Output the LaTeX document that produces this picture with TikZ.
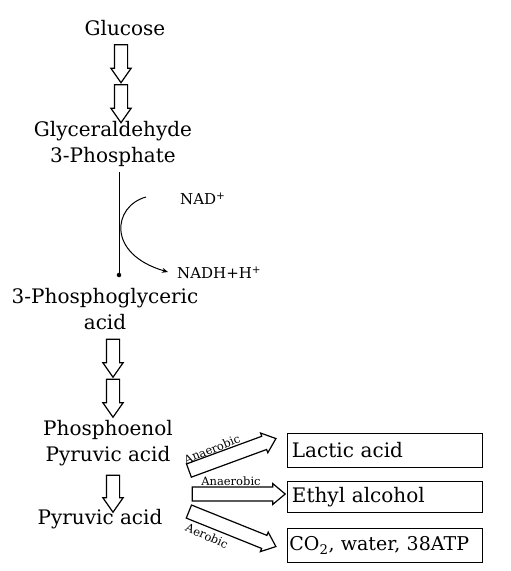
\documentclass[tikz,border=0pt]{standalone}
\usepackage{fontspec}
\setmainfont{DejaVu Serif}
\usetikzlibrary{calc,shapes.arrows,arrows.meta}
\tikzset{
  stage/.style={align=center, font=\fontsize{20}{26}\selectfont, inner sep=0pt},
  hollow/.style={single arrow, draw, line width=1.2pt, inner sep=6pt, minimum width=20pt,
    single arrow head extend=3.5pt, single arrow tip angle=70, minimum height=38pt, rotate=-90},
  sidearrow/.style={single arrow, draw, line width=1.2pt, inner sep=5.5pt, minimum width=21pt,
    single arrow head extend=3pt, single arrow tip angle=80},
  product/.style={draw, line width=0.9pt, anchor=west, minimum height=34pt, text width=186pt,
    inner xsep=4.5pt, align=left, font=\fontsize{20}{24}\selectfont},
  cofactor/.style={anchor=west, inner sep=0pt, font=\fontsize{15}{15}\selectfont},
  tag/.style={inner sep=0pt, font=\fontsize{11.5}{12}\selectfont},
  dot/.style={circle, fill=black, inner sep=1.6pt},
}
\begin{document}
\begin{tikzpicture}[x=1pt,y=-1pt]
  \useasboundingbox (0,0) rectangle (511,571);

  % stages of glycolysis
  \node[stage] (glucose) at (125,28) {Glucose};
  \node[stage] (gap) at (113,144) {Glyceraldehyde\\3-Phosphate};
  \node[stage] (pga) at (105,309) {3-Phosphoglyceric\\acid};
  \node[stage] (pep) at (108,443) {Phosphoenol\\Pyruvic acid};
  \node[stage] (pyruvate) at (100,519) {Pyruvic acid};

  % hollow arrows between stages
  \node[hollow] (ar1) at (121,59) {};
  \node[hollow] (ar2) at (121,99) {};
  \node[hollow] (ar3) at (113,353.5) {};
  \node[hollow] (ar4) at (113,393.5) {};
  \node[hollow, minimum height=37pt] (ar5) at (113,489) {};

  % oxidation step with NAD+
  \coordinate (gapEnd) at (119,172);
  \node[dot] (pgaDot) at (119,275) {};
  \draw[line width=1pt] (gapEnd) -- (pgaDot);
  \coordinate (nadIn) at (146,197);
  \coordinate (nadOut) at (168,272);
  \draw[line width=1pt, -{Stealth[length=6pt,width=5pt]}]
    (nadIn) .. controls (113,206) and (106,254) .. (nadOut);
  \node[cofactor] (nad) at (180,199) {NAD\textsuperscript{+}};
  \node[cofactor] (nadh) at (177,273) {NADH+H\textsuperscript{+}};

  % end products
  \node[product] (lactic) at (287,450) {Lactic acid};
  \node[product, minimum height=31pt] (ethyl) at (287,497) {Ethyl alcohol};
  \node[product, inner xsep=2pt, text width=191pt, font=\fontsize{19}{22}\selectfont] (co2) at (287,545)
    {CO\textsubscript{2}, water, 38ATP};

  \coordinate (lacTail) at (185,472);
  \coordinate (lacTip) at (272,440);
  \coordinate (ethTail) at (188,494);
  \coordinate (ethTip) at (281,494);
  \coordinate (co2Tail) at (185,510);
  \coordinate (co2Tip) at (272,545);
  \foreach \src/\dst/\nm in {lacTail/lacTip/toLactic, ethTail/ethTip/toEthyl, co2Tail/co2Tip/toCO}{
    \path let \p1=($(\dst)-(\src)$), \n1={atan2(\y1,\x1)}, \n2={veclen(\x1,\y1)} in
      node[sidearrow, minimum height=\n2, rotate=\n1] (\nm) at ($(\src)!0.5!(\dst)$) {};
  }
  \node[tag, rotate=22] (lacTag) at (212,449) {Anaerobic};
  \node[tag] (ethTag) at (231,481) {Anaerobic};
  \node[tag, rotate=-24] (co2Tag) at (207,536) {Aerobic};
\end{tikzpicture}
\end{document}
